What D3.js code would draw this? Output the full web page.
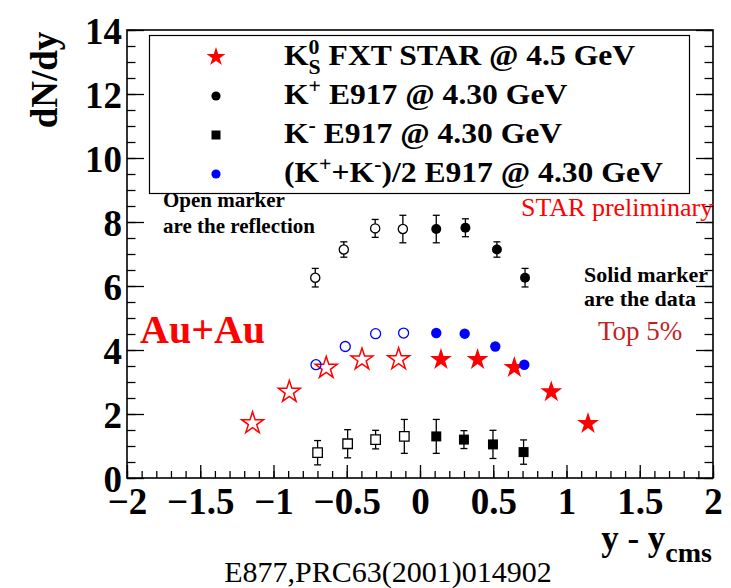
<!DOCTYPE html>
<html lang="en">
<head>
    <meta charset="UTF-8">
    <title>Kaon dN/dy vs rapidity</title>
    <script src="https://d3js.org/d3.v7.min.js"></script>
    <style>
        body { margin: 0; background: white; }
        svg text { font-family: "Liberation Serif", "Times New Roman", serif; }
        .axis .domain { stroke: none; }
        .axis line { stroke: black; stroke-width: 1.3; }
    </style>
</head>
<body>
    <svg id="svg1" width="731" height="588" style="background:white;"></svg>

    <script>
        // data --------------------------------------------------------------
        // K0s, FXT STAR 4.5 GeV : solid = measured, open = reflected
        const ksY      = [0.143, 0.393, 0.644, 0.896, 1.147];
        const ksV      = [3.70, 3.70, 3.45, 2.69, 1.70];
        const ksOpenY  = [-0.146, -0.396, -0.640, -0.892, -1.143];
        const ksOpenV  = [3.71, 3.70, 3.44, 2.69, 1.71];

        // K+ E917
        const kpY      = [0.111, 0.310, 0.525, 0.717];
        const kpV      = [7.78, 7.82, 7.14, 6.26];
        const kpErr    = [0.43, 0.28, 0.24, 0.29];
        const kpOpenY  = [-0.117, -0.306, -0.520, -0.715];
        const kpOpenV  = [7.78, 7.80, 7.14, 6.26];
        const kpOpenErr = [0.43, 0.28, 0.24, 0.29];

        // K- E917
        const kmY      = [0.111, 0.300, 0.498, 0.707];
        const kmV      = [1.30, 1.20, 1.05, 0.81];
        const kmErr    = [0.53, 0.28, 0.44, 0.38];
        const kmOpenY  = [-0.107, -0.303, -0.494, -0.699];
        const kmOpenV  = [1.30, 1.20, 1.07, 0.79];
        const kmOpenErr = [0.53, 0.29, 0.44, 0.38];

        // (K+ + K-)/2 E917
        const avgY     = [0.111, 0.305, 0.514, 0.712];
        const avgV     = [4.53, 4.51, 4.11, 3.54];
        const avgOpenY = [-0.112, -0.303, -0.510, -0.710];
        const avgOpenV = [4.53, 4.51, 4.11, 3.54];

        const xTicks = [-2, -1.5, -1, -0.5, 0, 0.5, 1, 1.5, 2];
        const yTicks = [0, 2, 4, 6, 8, 10, 12, 14];

        // svg configuration---------------------------------------------------
        const svg1 = d3.select("svg#svg1");
        const widthSvg1 = +svg1.attr("width");
        const heightSvg1 = +svg1.attr("height");
        const margin = {left: 127, top: 30, right: 18, bottom: 110};
        const chartWidth = widthSvg1 - margin.left - margin.right;
        const chartHeight = heightSvg1 - margin.top - margin.bottom;

        const xScale = d3.scaleLinear().domain([-2, 2]).range([margin.left, margin.left + chartWidth]);
        const yScale = d3.scaleLinear().domain([0, 14]).range([margin.top + chartHeight, margin.top]);
        const x0 = margin.left, x1 = margin.left + chartWidth;
        const y0 = margin.top + chartHeight, y1 = margin.top;

        const zip = (xs, vs, es) => xs.map((x, i) => ({x: x, v: vs[i], e: es ? es[i] : 0}));

        // axes: ticks point inwards, labels drawn by separate axes --------------
        const frame = svg1.append("g").attr("id", "frame");

        const minorX = d3.range(-20, 21).map(d => d / 10);
        const minorY = d3.range(0, 29).map(d => d / 2);

        frame.append("g").attr("class", "axis")
            .attr("transform", `translate(0,${y0})`)
            .call(d3.axisTop(xScale).tickValues(minorX).tickSize(7).tickFormat(""));
        frame.append("g").attr("class", "axis")
            .attr("transform", `translate(0,${y0})`)
            .call(d3.axisTop(xScale).tickValues(xTicks).tickSize(13).tickFormat(""));
        frame.append("g").attr("class", "axis")
            .attr("transform", `translate(${x0},0)`)
            .call(d3.axisRight(yScale).tickValues(minorY).tickSize(8.5).tickFormat(""));
        frame.append("g").attr("class", "axis")
            .attr("transform", `translate(${x0},0)`)
            .call(d3.axisRight(yScale).tickValues(yTicks).tickSize(17).tickFormat(""));
        frame.append("g").attr("class", "axis")
            .attr("transform", `translate(${x1},0)`)
            .call(d3.axisLeft(yScale).tickValues(minorY).tickSize(8.5).tickFormat(""));
        frame.append("g").attr("class", "axis")
            .attr("transform", `translate(${x1},0)`)
            .call(d3.axisLeft(yScale).tickValues(yTicks).tickSize(17).tickFormat(""));

        // tick labels
        const xLab = frame.append("g").attr("class", "axis")
            .attr("transform", `translate(0,${y0})`)
            .call(d3.axisBottom(xScale).tickValues(xTicks).tickSize(0).tickPadding(10)
                .tickFormat(d3.format("~g")));
        xLab.selectAll("text")
            .style("font-family", "Liberation Serif").style("font-weight", "bold")
            .style("font-size", "37px").attr("fill", "black");

        const yLab = frame.append("g").attr("class", "axis")
            .attr("transform", `translate(${x0},0)`)
            .call(d3.axisLeft(yScale).tickValues(yTicks).tickSize(0).tickPadding(5));
        yLab.selectAll("text")
            .style("font-family", "Liberation Serif").style("font-weight", "bold")
            .style("font-size", "37px").attr("fill", "black").attr("dy", "0.36em");

        // frame box
        frame.append("rect")
            .attr("x", x0).attr("y", y1)
            .attr("width", x1 - x0).attr("height", y0 - y1)
            .attr("fill", "none").attr("stroke", "black").attr("stroke-width", 1.6);

        // axis titles
        svg1.append("text")
            .attr("transform", "translate(57,80) rotate(-90)")
            .attr("text-anchor", "middle")
            .style("font-weight", "bold").style("font-size", "37px")
            .text("dN/dy");

        const xTitle = svg1.append("text")
            .attr("x", 712).attr("y", 550)
            .attr("text-anchor", "end")
            .style("font-weight", "bold").style("font-size", "35px");
        xTitle.append("tspan").text("y - y");
        xTitle.append("tspan").attr("dy", 12).style("font-size", "28px").text("cms");

        // markers ---------------------------------------------------------------
        const chart = svg1.append("g").attr("id", "chart");

        const starR = 11.5;
        const starSym = d3.symbol().type(d3.symbolStar).size(starR * starR / 0.8908130915292852);
        const circSym = r => d3.symbol().type(d3.symbolCircle).size(Math.PI * r * r);
        const sqSym = s => d3.symbol().type(d3.symbolSquare).size(s * s);

        function errorBars(g, data, color) {
            const eb = g.selectAll("g.err").data(data).join("g").attr("class", "err")
                .attr("stroke", color).attr("stroke-width", 1.3);
            eb.append("line")
                .attr("x1", d => xScale(d.x)).attr("x2", d => xScale(d.x))
                .attr("y1", d => yScale(d.v + d.e)).attr("y2", d => yScale(d.v - d.e));
            eb.append("line")
                .attr("x1", d => xScale(d.x) - 3.5).attr("x2", d => xScale(d.x) + 3.5)
                .attr("y1", d => yScale(d.v + d.e)).attr("y2", d => yScale(d.v + d.e));
            eb.append("line")
                .attr("x1", d => xScale(d.x) - 3.5).attr("x2", d => xScale(d.x) + 3.5)
                .attr("y1", d => yScale(d.v - d.e)).attr("y2", d => yScale(d.v - d.e));
        }

        function markers(g, data, sym, fill, stroke, sw) {
            g.selectAll("path.mk").data(data).join("path").attr("class", "mk")
                .attr("transform", d => `translate(${xScale(d.x)},${yScale(d.v)})`)
                .attr("d", sym)
                .attr("fill", fill).attr("stroke", stroke).attr("stroke-width", sw);
        }

        // K+ open / solid
        const gKpO = chart.append("g");
        errorBars(gKpO, zip(kpOpenY, kpOpenV, kpOpenErr), "black");
        markers(gKpO, zip(kpOpenY, kpOpenV), circSym(4.6), "white", "black", 1.3);
        const gKp = chart.append("g");
        errorBars(gKp, zip(kpY, kpV, kpErr), "black");
        markers(gKp, zip(kpY, kpV), circSym(5), "black", "none", 0);

        // K- open / solid
        const gKmO = chart.append("g");
        errorBars(gKmO, zip(kmOpenY, kmOpenV, kmOpenErr), "black");
        markers(gKmO, zip(kmOpenY, kmOpenV), sqSym(9.5), "white", "black", 1.3);
        const gKm = chart.append("g");
        errorBars(gKm, zip(kmY, kmV, kmErr), "black");
        markers(gKm, zip(kmY, kmV), sqSym(10), "black", "none", 0);

        // K0s stars
        const gKsO = chart.append("g");
        markers(gKsO, zip(ksOpenY, ksOpenV), starSym, "none", "red", 1.5);
        const gKs = chart.append("g");
        markers(gKs, zip(ksY, ksV), starSym, "red", "none", 0);

        // (K+ + K-)/2
        const gAvO = chart.append("g");
        markers(gAvO, zip(avgOpenY, avgOpenV), circSym(5), "none", "blue", 1.3);
        const gAv = chart.append("g");
        markers(gAv, zip(avgY, avgV), circSym(5.2), "blue", "none", 0);

        // legend ----------------------------------------------------------------
        const legend = svg1.append("g").attr("id", "legend");
        legend.append("rect")
            .attr("x", 149.5).attr("y", 35.5).attr("width", 540).attr("height", 158)
            .attr("fill", "white").attr("stroke", "black").attr("stroke-width", 1.2);

        const legRows = [57, 96, 135, 174];
        const legX = 216, legTextX = 284;

        legend.append("path").attr("transform", `translate(${legX},${legRows[0]})`)
            .attr("d", d3.symbol().type(d3.symbolStar).size(100 / 0.8908130915292852)).attr("fill", "red");
        legend.append("path").attr("transform", `translate(${legX},${legRows[1]})`)
            .attr("d", circSym(4.6)).attr("fill", "black");
        legend.append("path").attr("transform", `translate(${legX},${legRows[2]})`)
            .attr("d", sqSym(9)).attr("fill", "black");
        legend.append("path").attr("transform", `translate(${legX},${legRows[3]})`)
            .attr("d", circSym(4.6)).attr("fill", "blue");

        // ROOT's bold font is a little wider than Liberation: stretch horizontally
        function legText(row) {
            return legend.append("text")
                .attr("transform", `translate(${legTextX},${legRows[row] + 8}) scale(1.09,1)`)
                .style("font-weight", "bold").style("font-size", "29px");
        }
        const t0 = legText(0);
        t0.append("tspan").text("K");
        t0.append("tspan").attr("dy", -11).style("font-size", "20px").text("0");
        t0.append("tspan").attr("dx", "-0.5em").attr("dy", 20).style("font-size", "20px").text("S");
        t0.append("tspan").attr("dy", -9).text(" FXT STAR @ 4.5 GeV");

        const t1 = legText(1);
        t1.append("tspan").text("K");
        t1.append("tspan").attr("dy", -11).style("font-size", "20px").text("+");
        t1.append("tspan").attr("dy", 11).text(" E917 @ 4.30 GeV");

        const t2 = legText(2);
        t2.append("tspan").text("K");
        t2.append("tspan").attr("dy", -11).style("font-size", "20px").text("-");
        t2.append("tspan").attr("dy", 11).text(" E917 @ 4.30 GeV");

        const t3 = legText(3);
        t3.append("tspan").text("(K");
        t3.append("tspan").attr("dy", -11).style("font-size", "20px").text("+");
        t3.append("tspan").attr("dy", 11).text("+K");
        t3.append("tspan").attr("dy", -11).style("font-size", "20px").text("-");
        t3.append("tspan").attr("dy", 11).text(")/2 E917 @ 4.30 GeV");

        // annotations -----------------------------------------------------------
        const notes = svg1.append("g").attr("id", "notes");
        notes.append("text").attr("x", 163).attr("y", 207)
            .style("font-weight", "bold").style("font-size", "21px").text("Open marker");
        notes.append("text").attr("x", 163).attr("y", 233)
            .style("font-weight", "bold").style("font-size", "21px").text("are the reflection");
        notes.append("text").attr("x", 521).attr("y", 216)
            .attr("fill", "red").style("font-size", "26px").text("STAR preliminary");
        notes.append("text").attr("x", 584).attr("y", 282)
            .style("font-weight", "bold").style("font-size", "22px").text("Solid marker");
        notes.append("text").attr("x", 584).attr("y", 306)
            .style("font-weight", "bold").style("font-size", "22px").text("are the data");
        notes.append("text").attr("x", 598).attr("y", 340)
            .attr("fill", "#c41e1e").style("font-size", "27px").text("Top 5%");
        notes.append("text").attr("x", 140).attr("y", 343)
            .attr("fill", "red").style("font-weight", "bold").style("font-size", "40px").text("Au+Au");
        notes.append("text").attr("x", 388).attr("y", 582)
            .attr("text-anchor", "middle").style("font-size", "30px").text("E877,PRC63(2001)014902");
    </script>
</body>
</html>
